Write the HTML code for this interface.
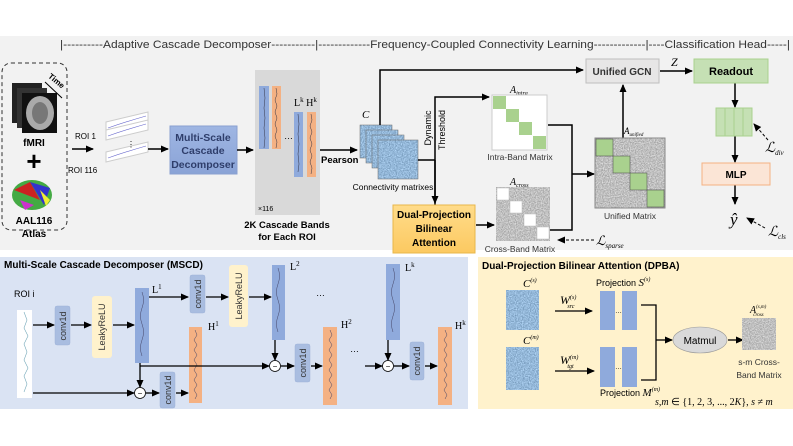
<!DOCTYPE html>
<html><head><meta charset="utf-8"><style>
html,body{margin:0;padding:0;background:#fff}
svg{display:block;font-family:"Liberation Sans",sans-serif}
.b{font-weight:bold}
.m{font-family:"Liberation Serif",serif;font-style:italic}
</style></head><body>
<svg width="793" height="446" viewBox="0 0 793 446" xmlns="http://www.w3.org/2000/svg">
<defs>
<marker id="a" markerWidth="8" markerHeight="8" refX="7" refY="4" orient="auto" markerUnits="userSpaceOnUse"><path d="M0,0.5 L8,4 L0,7.5 Z" fill="#000"/></marker>
<filter id="nb" x="0" y="0" width="1" height="1" color-interpolation-filters="sRGB"><feTurbulence type="fractalNoise" baseFrequency="0.85" numOctaves="1" seed="3" result="t"/><feColorMatrix in="t" type="matrix" values="0.5 0 0 0 0.33  0.5 0 0 0 0.47  0.5 0 0 0 0.6  0 0 0 0 1"/><feComposite in2="SourceGraphic" operator="in"/></filter>
<filter id="ng" x="0" y="0" width="1" height="1" color-interpolation-filters="sRGB"><feTurbulence type="fractalNoise" baseFrequency="0.85" numOctaves="1" seed="5" result="t"/><feColorMatrix in="t" type="matrix" values="0.5 0 0 0 0.5  0.5 0 0 0 0.5  0.5 0 0 0 0.5  0 0 0 0 1"/><feComposite in2="SourceGraphic" operator="in"/></filter>
<linearGradient id="gb" x1="0" y1="0" x2="0" y2="1"><stop offset="0" stop-color="#9fb6e3"/><stop offset="1" stop-color="#8aa3d6"/></linearGradient>
<linearGradient id="go" x1="0" y1="0" x2="0" y2="1"><stop offset="0" stop-color="#ffdc8a"/><stop offset="1" stop-color="#fcc961"/></linearGradient>
</defs>

<rect x="0" y="36" width="793" height="214" fill="#f2f2f2"/>
<text x="60" y="48" font-size="11" fill="#333" textLength="730" lengthAdjust="spacingAndGlyphs">|----------Adaptive Cascade Decomposer-----------|-------------Frequency-Coupled Connectivity Learning-------------|----Classification Head-----|</text>

<rect x="2" y="63" width="65" height="167" rx="9" fill="none" stroke="#333" stroke-dasharray="4,3"/>
<rect x="12" y="83" width="30" height="40" fill="#222"/><rect x="17" y="88" width="30" height="40" fill="#333"/><rect x="22" y="93" width="35" height="40" fill="#111"/>
<ellipse cx="40" cy="113" rx="14" ry="17" fill="#aaa"/><ellipse cx="40" cy="113" rx="8" ry="11" fill="#777"/>
<text x="48" y="80" font-size="8" class="b" transform="rotate(40 52 78)">Time</text>
<line x1="45" y1="82" x2="62" y2="98" stroke="#000"/>
<text x="34" y="146" font-size="10" class="b" text-anchor="middle">fMRI</text>
<text x="34" y="170" font-size="26" class="b" text-anchor="middle">+</text>
<ellipse cx="32" cy="195" rx="20" ry="15" fill="#4a4"/>
<path d="M14,190 L30,182 L40,200 Z" fill="#c22"/><path d="M30,182 L50,188 L44,205 Z" fill="#33c"/><path d="M20,200 L34,205 L25,210 Z" fill="#c3c"/><path d="M40,190 L50,200 L46,206Z" fill="#ee3"/>
<text x="34" y="224" font-size="10" class="b" text-anchor="middle">AAL116</text>
<text x="34" y="237" font-size="10" class="b" text-anchor="middle">Atlas</text>

<text x="75" y="139" font-size="8">ROI 1</text>
<text x="68" y="173" font-size="8">ROI 116</text>
<line x1="72" y1="149" x2="93" y2="149" stroke="#000" stroke-width="1.5" marker-end="url(#a)"/>
<g fill="#fff" stroke="#ccc"><path d="M106,122 L148,112 L148,122 L106,132Z"/><path d="M106,130 L148,120 L148,130 L106,140Z"/><path d="M106,152 L148,142 L148,152 L106,162Z"/></g>
<g stroke="#66c" fill="none" stroke-width="0.6"><path d="M108,128 Q125,122 146,116"/><path d="M108,136 Q125,130 146,124"/><path d="M108,158 Q125,152 146,146"/></g>
<text x="127" y="147" font-size="8">⋮</text>
<line x1="148" y1="149" x2="168" y2="149" stroke="#000" stroke-width="1.5" marker-end="url(#a)"/>
<rect x="170" y="126" width="67" height="48" fill="url(#gb)" stroke="#8aa0d0"/>
<g font-size="10.5" class="b" fill="#2f3e6b" text-anchor="middle"><text x="203" y="141">Multi-Scale</text><text x="203" y="154">Cascade</text><text x="203" y="168">Decomposer</text></g>
<line x1="237" y1="150" x2="253" y2="150" stroke="#000" stroke-width="1.5" marker-end="url(#a)"/>

<rect x="255" y="70" width="65" height="145" fill="#d9d9d9"/>
<rect x="259" y="86" width="10" height="63" fill="#8faadc"/><rect x="272" y="86" width="9" height="63" fill="#f4b183"/>
<rect x="294" y="112" width="9" height="65" fill="#8faadc"/><rect x="307" y="112" width="9" height="65" fill="#f4b183"/>
<g stroke="#334" stroke-width="0.5" fill="none"><path d="M264,88 l1,10 l-1,10 l1,10 l-1,10 l1,10 l-1,10"/><path d="M276,88 l1,6 l-2,6 l2,6 l-2,6 l2,6 l-2,6 l2,6 l-2,6 l2,6 l-1,6"/><path d="M298,114 l1,10 l-1,10 l1,10 l-1,10 l1,10 l-1,8"/><path d="M311,114 l1,6 l-2,6 l2,6 l-2,6 l2,6 l-2,6 l2,6 l-2,6 l2,6 l-1,6"/></g>
<text x="284" y="139" font-size="9">…</text>
<text x="294" y="106" font-size="10" font-family="Liberation Serif">L<tspan font-size="7" dy="-4">k</tspan><tspan dy="4"> H</tspan><tspan font-size="7" dy="-4">k</tspan></text>
<text x="258" y="211" font-size="7">×116</text>
<g font-size="9.5" class="b" text-anchor="middle"><text x="287" y="228">2K Cascade Bands</text><text x="287" y="240">for Each ROI</text></g>
<line x1="320" y1="150" x2="357" y2="150" stroke="#000" stroke-width="1.5" marker-end="url(#a)"/>
<text x="321" y="163" font-size="9.5" class="b">Pearson</text>

<text x="362" y="118" font-size="11" class="m">C</text>
<rect x="360" y="125" width="32" height="33" fill="#a8c2de" filter="url(#nb)"/><rect x="360" y="125" width="32" height="33" fill="none" stroke="#666" stroke-width="0.5"/>
<rect x="366" y="130" width="32" height="33" fill="#a8c2de" filter="url(#nb)"/><rect x="366" y="130" width="32" height="33" fill="none" stroke="#666" stroke-width="0.5"/>
<rect x="372" y="135" width="32" height="33" fill="#a8c2de" filter="url(#nb)"/><rect x="372" y="135" width="32" height="33" fill="none" stroke="#666" stroke-width="0.5"/>
<rect x="378" y="140" width="40" height="39" fill="#a8c2de" filter="url(#nb)"/><rect x="378" y="140" width="40" height="39" fill="none" stroke="#666" stroke-width="0.5"/>
<text x="393" y="190" font-size="8.5" text-anchor="middle">Connectivity matrixes</text>

<g stroke="#000" stroke-width="1.5" fill="none">
<polyline points="380,125 380,70 583,70" marker-end="url(#a)"/>
<polyline points="418,160 435,160"/>
<polyline points="435,205 435,97 489,97" marker-end="url(#a)"/>
<line x1="435" y1="160" x2="435" y2="203" marker-end="url(#a)"/>
<polyline points="548,125 572,125 572,230 550,230"/>
<line x1="572" y1="174" x2="594" y2="174" marker-end="url(#a)"/>
<line x1="623" y1="138" x2="623" y2="85" marker-end="url(#a)"/>
<line x1="660" y1="71" x2="692" y2="71" marker-end="url(#a)"/>
<line x1="476" y1="225" x2="494" y2="225" marker-end="url(#a)"/>
<line x1="735" y1="83" x2="735" y2="107" marker-end="url(#a)"/>
<line x1="735" y1="136" x2="735" y2="162" marker-end="url(#a)"/>
<line x1="735" y1="185" x2="735" y2="204" marker-end="url(#a)"/>
</g>
<g font-size="9" text-anchor="middle"><text transform="translate(431,128) rotate(-90)">Dynamic</text><text transform="translate(445,130) rotate(-90)">Threshold</text></g>

<text x="510" y="93" font-size="10" class="m">A<tspan font-size="6" dy="2">intra</tspan></text>
<rect x="492" y="95" width="55" height="55" fill="#fff" stroke="#ccc"/>
<g fill="#a9d18e"><rect x="493" y="96" width="13" height="13"/><rect x="506" y="109" width="13" height="13"/><rect x="519" y="122" width="13" height="13"/><rect x="533" y="136" width="13" height="13"/></g>
<text x="520" y="160" font-size="8.5" text-anchor="middle" fill="#333">Intra-Band Matrix</text>

<rect x="393" y="205" width="82" height="48" fill="url(#go)" stroke="#e8b74a"/>
<g font-size="10" class="b" text-anchor="middle"><text x="434" y="218">Dual-Projection</text><text x="434" y="232">Bilinear</text><text x="434" y="246">Attention</text></g>

<text x="510" y="185" font-size="10" class="m">A<tspan font-size="6" dy="2">cross</tspan></text>
<rect x="496" y="187" width="54" height="54" fill="#ddd" filter="url(#ng)"/>
<g fill="#fff" stroke="#bbb" stroke-width="0.5"><rect x="497" y="188" width="12" height="12"/><rect x="510" y="201" width="12" height="12"/><rect x="524" y="214" width="12" height="12"/><rect x="537" y="227" width="12" height="12"/></g>
<text x="520" y="252" font-size="8.5" text-anchor="middle" fill="#333">Cross-Band Matrix</text>
<line x1="594" y1="240" x2="558" y2="240" stroke="#000" stroke-dasharray="3,2" marker-end="url(#a)"/>
<text x="596" y="245" font-size="13" class="m">ℒ<tspan font-size="7" dy="3">sparse</tspan></text>

<text x="624" y="134" font-size="9" class="m">A<tspan font-size="5" dy="2">unified</tspan></text>
<rect x="595" y="138" width="70" height="70" fill="#ddd" filter="url(#ng)"/>
<rect x="595" y="138" width="70" height="70" fill="none" stroke="#888"/>
<g fill="#a9d18e" stroke="#555" stroke-width="0.6"><rect x="596" y="139" width="17" height="17"/><rect x="613" y="156" width="17" height="17"/><rect x="630" y="173" width="17" height="17"/><rect x="647" y="190" width="17" height="17"/></g>
<text x="630" y="219" font-size="8.5" text-anchor="middle" fill="#333">Unified Matrix</text>

<rect x="586" y="59" width="73" height="24" fill="#e7e6e6" stroke="#bfbfbf"/>
<text x="622" y="75" font-size="10" class="b" text-anchor="middle" fill="#333">Unified GCN</text>
<text x="671" y="66" font-size="12" class="m">Z</text>
<rect x="694" y="59" width="74" height="24" fill="#c5e0b4" stroke="#a9d18e"/>
<text x="731" y="75" font-size="11" class="b" text-anchor="middle">Readout</text>
<g fill="#c5e0b4" stroke="#a9d18e"><rect x="716" y="108" width="9" height="28"/><rect x="725" y="108" width="9" height="28"/><rect x="734" y="108" width="9" height="28"/><rect x="743" y="108" width="9" height="28"/></g>
<line x1="768" y1="140" x2="754" y2="124" stroke="#000" stroke-dasharray="3,2" marker-end="url(#a)"/>
<text x="765" y="152" font-size="14" class="m">ℒ<tspan font-size="7" dy="3">div</tspan></text>
<rect x="702" y="163" width="68" height="22" fill="#fbe5d6" stroke="#f4b183"/>
<text x="736" y="178" font-size="10" class="b" text-anchor="middle">MLP</text>
<text x="730" y="225" font-size="17" class="m">ŷ</text>
<line x1="765" y1="228" x2="747" y2="218" stroke="#000" stroke-dasharray="3,2" marker-end="url(#a)"/>
<text x="768" y="236" font-size="14" class="m">ℒ<tspan font-size="7" dy="3">cls</tspan></text>

<rect x="0" y="257" width="468" height="152" fill="#dae3f3"/>
<text x="4" y="268" font-size="10" class="b">Multi-Scale Cascade Decomposer (MSCD)</text>
<text x="14" y="297" font-size="9">ROI i</text>
<rect x="17" y="310" width="15" height="88" fill="#fff"/>
<path d="M24,312 l3,8 l-3,8 l4,8 l-4,8 l3,8 l-3,8 l4,8 l-4,8 l3,8 l-3,8" stroke="#7ab" fill="none" stroke-width="0.6"/>
<g fill="#a9bde0" stroke="#9fb3d9" stroke-width="0.5"><rect x="55" y="306" width="15" height="39" rx="2"/><rect x="190" y="275" width="15" height="38" rx="2"/><rect x="160" y="372" width="15" height="36" rx="2"/><rect x="295" y="344" width="15" height="38" rx="2"/><rect x="410" y="342" width="14" height="38" rx="2"/></g>
<g fill="#fff2cc"><rect x="92" y="296" width="20" height="62" rx="3"/><rect x="229" y="265" width="19" height="62" rx="3"/></g>
<g font-size="9" text-anchor="middle" fill="#333">
<text transform="translate(66,326) rotate(-90)">conv1d</text>
<text transform="translate(201,294) rotate(-90)">conv1d</text>
<text transform="translate(171,390) rotate(-90)">conv1d</text>
<text transform="translate(306,363) rotate(-90)">conv1d</text>
<text transform="translate(420,361) rotate(-90)">conv1d</text>
<text transform="translate(105,327) rotate(-90)">LeakyReLU</text>
<text transform="translate(242,296) rotate(-90)">LeakyReLU</text>
</g>
<g fill="#8faadc"><rect x="135" y="288" width="14" height="75"/><rect x="272" y="265" width="13" height="75"/><rect x="386" y="264" width="14" height="76"/></g>
<g fill="#f4b183"><rect x="189" y="327" width="13" height="76"/><rect x="323" y="327" width="14" height="78"/><rect x="438" y="327" width="14" height="78"/></g>
<g stroke="#446" stroke-width="0.5" fill="none">
<path d="M142,292 q3,8 0,16 q-3,8 0,16 q3,8 0,16 q-3,8 0,16"/><path d="M278,268 q3,8 0,16 q-3,8 0,16 q3,8 0,16 q-3,8 0,16"/><path d="M393,268 q3,8 0,16 q-3,8 0,16 q3,8 0,16 q-3,8 0,16"/>
<path d="M195,330 l2,5 l-3,5 l3,5 l-3,5 l3,5 l-3,5 l3,5 l-3,5 l3,5 l-3,5 l3,5 l-3,5 l3,5 l-2,4"/><path d="M330,330 l2,5 l-3,5 l3,5 l-3,5 l3,5 l-3,5 l3,5 l-3,5 l3,5 l-3,5 l3,5 l-3,5 l3,5 l-2,4"/><path d="M445,330 l2,5 l-3,5 l3,5 l-3,5 l3,5 l-3,5 l3,5 l-3,5 l3,5 l-3,5 l3,5 l-3,5 l3,5 l-2,4"/>
</g>
<g font-size="10" font-family="Liberation Serif">
<text x="152" y="293">L<tspan font-size="7" dy="-4">1</tspan></text><text x="290" y="270">L<tspan font-size="7" dy="-4">2</tspan></text><text x="405" y="271">L<tspan font-size="7" dy="-4">k</tspan></text>
<text x="208" y="330">H<tspan font-size="7" dy="-4">1</tspan></text><text x="341" y="328">H<tspan font-size="7" dy="-4">2</tspan></text><text x="455" y="329">H<tspan font-size="7" dy="-4">k</tspan></text>
</g>
<text x="316" y="296" font-size="9">…</text><text x="350" y="352" font-size="9">…</text>
<g stroke="#000" stroke-width="1.3" fill="none">
<line x1="33" y1="325" x2="54" y2="325" marker-end="url(#a)"/>
<line x1="71" y1="325" x2="91" y2="325" marker-end="url(#a)"/>
<line x1="113" y1="325" x2="134" y2="325" marker-end="url(#a)"/>
<line x1="149" y1="297" x2="188" y2="297" marker-end="url(#a)"/>
<line x1="206" y1="297" x2="228" y2="297" marker-end="url(#a)"/>
<line x1="249" y1="297" x2="271" y2="297" marker-end="url(#a)"/>
<line x1="140" y1="363" x2="140" y2="387" marker-end="url(#a)"/>
<line x1="33" y1="393" x2="134" y2="393" marker-end="url(#a)"/>
<line x1="146" y1="393" x2="159" y2="393" marker-end="url(#a)"/>
<line x1="176" y1="393" x2="188" y2="393" marker-end="url(#a)"/>
<line x1="140" y1="366" x2="269" y2="366" marker-end="url(#a)"/>
<line x1="275" y1="340" x2="275" y2="360" marker-end="url(#a)"/>
<line x1="281" y1="366" x2="294" y2="366" marker-end="url(#a)"/>
<line x1="311" y1="366" x2="322" y2="366" marker-end="url(#a)"/>
<line x1="365" y1="366" x2="382" y2="366" marker-end="url(#a)"/>
<line x1="388" y1="340" x2="388" y2="360" marker-end="url(#a)"/>
<line x1="394" y1="366" x2="409" y2="366" marker-end="url(#a)"/>
<line x1="425" y1="366" x2="437" y2="366" marker-end="url(#a)"/>
</g>
<g fill="#fff" stroke="#000" stroke-width="0.8"><circle cx="140" cy="393" r="5.5"/><circle cx="275" cy="366" r="5.5"/><circle cx="388" cy="366" r="5.5"/></g>
<g font-size="8" text-anchor="middle"><text x="140" y="396">−</text><text x="275" y="369">−</text><text x="388" y="369">−</text></g>

<rect x="478" y="257" width="315" height="152" fill="#fff2cc"/>
<text x="482" y="269" font-size="10" class="b">Dual-Projection Bilinear Attention (DPBA)</text>
<text x="523" y="287" font-size="11" class="m">C<tspan font-size="6" dy="-5">(s)</tspan></text>
<text x="523" y="344" font-size="11" class="m">C<tspan font-size="6" dy="-5">(m)</tspan></text>
<rect x="506" y="290" width="33" height="40" fill="#a8c2de" filter="url(#nb)"/>
<rect x="506" y="347" width="33" height="43" fill="#a8c2de" filter="url(#nb)"/>
<text x="560" y="304" font-size="12" class="m">W<tspan font-size="6" dy="-5">(s)</tspan><tspan font-size="6" dx="-9" dy="9">src</tspan></text>
<text x="560" y="364" font-size="12" class="m">W<tspan font-size="6" dy="-5">(m)</tspan><tspan font-size="6" dx="-11" dy="9">tgt</tspan></text>
<g stroke="#000" stroke-width="1.3" fill="none">
<line x1="555" y1="311" x2="592" y2="311" marker-end="url(#a)"/>
<line x1="555" y1="371" x2="594" y2="371" marker-end="url(#a)"/>
<polyline points="641,305 656,305 656,380 641,380"/>
<line x1="656" y1="340" x2="672" y2="340" marker-end="url(#a)"/>
<line x1="728" y1="340" x2="743" y2="340" marker-end="url(#a)"/>
</g>
<text x="596" y="286" font-size="9">Projection <tspan class="m" font-size="11">S</tspan><tspan font-size="6" dy="-5" class="m">(s)</tspan></text>
<g fill="#8faadc"><rect x="600" y="291" width="15" height="39"/><rect x="622" y="291" width="15" height="39"/><rect x="600" y="347" width="15" height="40"/><rect x="622" y="347" width="15" height="40"/></g>
<text x="615" y="313" font-size="7">…</text><text x="615" y="369" font-size="7">…</text>
<text x="600" y="396" font-size="9">Projection <tspan class="m" font-size="11">M</tspan><tspan font-size="6" dy="-5" class="m">(m)</tspan></text>
<ellipse cx="700" cy="340" rx="27" ry="13" fill="#d9d9d9" stroke="#999" stroke-width="0.6"/>
<text x="700" y="344" font-size="10" text-anchor="middle">Matmul</text>
<text x="750" y="313" font-size="10" class="m">A<tspan font-size="5" dy="-5">(s,m)</tspan><tspan font-size="5" dx="-13" dy="8">cross</tspan></text>
<rect x="742" y="318" width="34" height="32" fill="#ddd" filter="url(#ng)"/>
<g font-size="8.5" text-anchor="middle" fill="#333"><text x="759" y="365">s-m Cross-</text><text x="759" y="378">Band Matrix</text></g>
<text x="655" y="405" font-size="10" font-family="Liberation Serif"><tspan font-style="italic">s,m</tspan> ∈ {1, 2, 3, ..., 2<tspan font-style="italic">K</tspan>}, <tspan font-style="italic">s</tspan> ≠ <tspan font-style="italic">m</tspan></text>
</svg>
</body></html>
